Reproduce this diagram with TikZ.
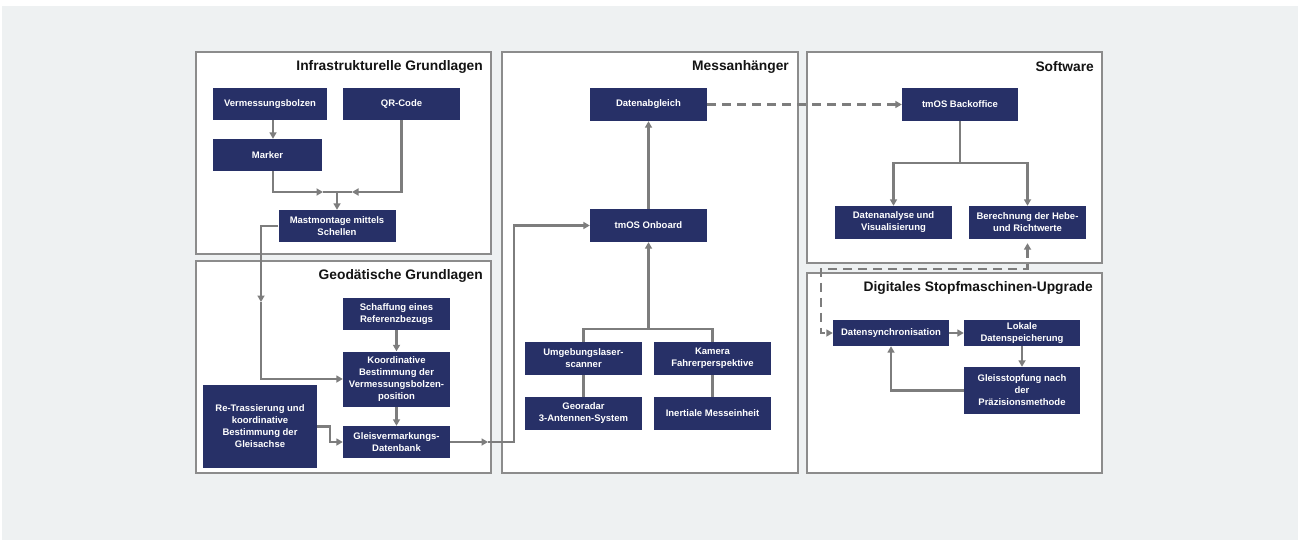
\documentclass[tikz,border=0pt]{standalone}
\usepackage{fontspec}
\setmainfont{Liberation Sans}
\usetikzlibrary{arrows.meta,calc}
\definecolor{navy}{RGB}{39,48,103}
\definecolor{bggray}{RGB}{238,241,242}
\definecolor{linegray}{RGB}{125,125,125}
\definecolor{panelgray}{RGB}{140,140,140}
\definecolor{titlecol}{RGB}{20,20,20}
\tikzset{
  box/.style={rectangle, fill=navy, text=white, align=center, inner sep=0pt,
    font=\bfseries\fontsize{9.5}{12}\selectfont},
  panel/.style={draw=panelgray, line width=2.2pt, fill=white},
  ptitle/.style={anchor=east, text=titlecol, inner sep=0pt,
    font=\bfseries\fontsize{13.8}{16}\selectfont},
  conn/.style={draw=linegray, line width=2.2pt},
  arr/.style={conn, -{Triangle[length=6.5pt,width=7pt]}},
  darr/.style={conn, dash pattern=on 9pt off 6pt, -{Triangle[length=6.5pt,width=7pt]}},
}
\begin{document}
\begin{tikzpicture}[x=1pt,y=-1pt]
\useasboundingbox (0,0) rectangle (1298,540);
\fill[white] (0,0) rectangle (1298,540);
\fill[bggray] (2,6) rectangle (1298,540);
% panels
\draw[panel] (196,52) rectangle (491,254);
\draw[panel] (196,261) rectangle (491,473);
\draw[panel] (502,52) rectangle (798,473);
\draw[panel] (807,52) rectangle (1102,263);
\draw[panel] (807,273) rectangle (1102,473);
\node[ptitle] (t1) at (483,66.5) {Infrastrukturelle Grundlagen};
\node[ptitle] (t2) at (483,276) {Geodätische Grundlagen};
\node[ptitle] (t3) at (789,66.5) {Messanhänger};
\node[ptitle] (t4) at (1094,66.5) {Software};
\node[ptitle] (t5) at (1093,288) {Digitales Stopfmaschinen-Upgrade};
% Infrastrukturelle Grundlagen
\node[box, minimum width=114pt, minimum height=32pt] (vb) at (270,104) {Vermessungsbolzen};
\node[box, minimum width=117pt, minimum height=32pt] (qr) at (401.5,104) {QR-Code};
\node[box, minimum width=109pt, minimum height=32pt] (mk) at (267.5,155) {Marker};
\node[box, minimum width=117pt, minimum height=32pt] (mast) at (337,226) {Mastmontage mittels\\Schellen};
% Geodaetische Grundlagen
\node[box, minimum width=107pt, minimum height=32pt] (sch) at (396.5,314) {Schaffung eines\\Referenzbezugs};
\node[box, minimum width=107pt, minimum height=55pt] (ko) at (396.5,379) {Koordinative\\Bestimmung der\\Vermessungsbolzen-\\position};
\node[box, minimum width=114pt, minimum height=83pt] (re) at (260,426.5) {Re-Trassierung und\\koordinative\\Bestimmung der\\Gleisachse};
\node[box, minimum width=107pt, minimum height=32pt] (gl) at (396.5,442) {Gleisvermarkungs-\\Datenbank};
% Messanhaenger
\node[box, minimum width=117pt, minimum height=33pt] (da) at (648.5,104.5) {Datenabgleich};
\node[box, minimum width=117pt, minimum height=33pt] (tm) at (648.5,225.5) {tmOS Onboard};
\node[box, minimum width=117pt, minimum height=33pt] (um) at (583.5,358.5) {Umgebungslaser-\\scanner};
\node[box, minimum width=117pt, minimum height=33pt] (ka) at (712.5,358.5) {Kamera\\Fahrerperspektive};
\node[box, minimum width=117pt, minimum height=33pt] (ge) at (583.5,413.5) {Georadar\\3-Antennen-System};
\node[box, minimum width=117pt, minimum height=33pt] (in) at (712.5,413.5) {Inertiale Messeinheit};
% Software
\node[box, minimum width=116pt, minimum height=33pt] (bo) at (960,104.5) {tmOS Backoffice};
\node[box, minimum width=117pt, minimum height=33pt] (dan) at (893.5,222.5) {Datenanalyse und\\Visualisierung};
\node[box, minimum width=117pt, minimum height=33pt] (be) at (1027.5,222.5) {Berechnung der Hebe-\\und Richtwerte};
% Digitales Stopfmaschinen-Upgrade
\node[box, minimum width=116pt, minimum height=26pt] (ds) at (891,333) {Datensynchronisation};
\node[box, minimum width=116pt, minimum height=26pt] (lo) at (1022,333) {Lokale\\Datenspeicherung};
\node[box, minimum width=116pt, minimum height=47pt] (gs) at (1022,390.5) {Gleisstopfung nach\\der\\Präzisionsmethode};
% coordinates
\coordinate (cA) at (273,0);
\coordinate (jl) at (323,192);
\coordinate (jr) at (352,192);
\coordinate (j) at (337,192);
\coordinate (m1) at (261,302);
\coordinate (g1) at (488,442);
\coordinate (g2) at (514,442);
\coordinate (tr) at (648.5,329);
\coordinate (sw) at (960,163);
\coordinate (d1) at (821,269);
% connectors infra
\draw[arr] (vb.south -| cA) -- (mk.north -| cA);
\draw[conn] (jl) -- (jr);
\draw[arr] (mk.south -| cA) |- (jl);
\draw[arr] (qr.south) |- (jr);
\draw[arr] (j) -- (mast.north);
\draw[arr] (mast.west) -| (m1);
\draw[arr] (m1) |- (ko.west);
% geodaetische
\draw[arr] (sch.south) -- (ko.north);
\draw[arr] (ko.south) -- (gl.north);
\draw[arr] (re.east) -- ++(13,0) |- (gl.west);
\draw[arr] (gl.east) -- (g1);
\draw[arr] (g1) -- (g2) |- (tm.west);
% messanhaenger
\draw[arr] (tm.north) -- (da.south);
\draw[arr] (tr) -- (tm.south);
\draw[conn] (um.north) -- (um.north |- tr) -- (ka.north |- tr) -- (ka.north);
\draw[conn] (um.south) -- (ge.north);
\draw[conn] (ka.south) -- (in.north);
% software
\draw[darr] (da.east) -- (bo.west);
\draw[conn] (bo.south) -- (sw);
\draw[arr] (sw) -| (dan.north);
\draw[arr] (sw) -| (be.north);
% digitales
\draw[darr, {Triangle[length=6.5pt,width=7pt]}-{Triangle[length=6.5pt,width=7pt]}, shorten <=4pt] (be.south) |- (d1) |- (ds.west);
\draw[arr] (ds.east) -- (lo.west);
\draw[arr] (lo.south) -- (gs.north);
\draw[arr] (gs.west) -| (ds.south);
\end{tikzpicture}
\end{document}
